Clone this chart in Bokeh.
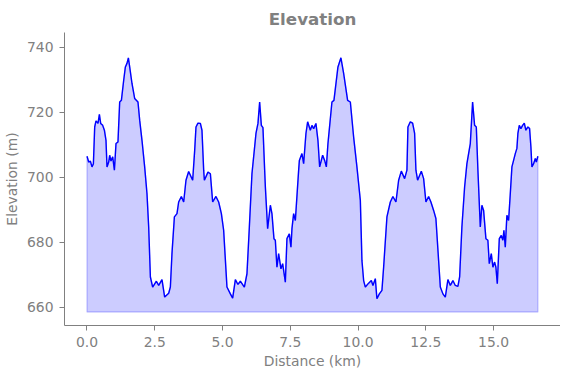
from bokeh.plotting import figure
from bokeh.models import FixedTicker, NumeralTickFormatter, Range1d
from bokeh.embed import file_html
from bokeh.resources import INLINE

# Distance (km) and elevation (m)
distance_km = [
    0.000, 0.063, 0.125, 0.184, 0.236, 0.284, 0.332, 0.406, 0.457, 0.505,
    0.579, 0.642, 0.701, 0.738, 0.800, 0.837, 0.885, 0.948, 1.011, 1.070,
    1.143, 1.206, 1.269, 1.354, 1.416, 1.475, 1.527, 1.575, 1.660, 1.759,
    1.881, 1.944, 2.029, 2.128, 2.213, 2.276, 2.339, 2.423, 2.560, 2.645,
    2.767, 2.866, 3.014, 3.076, 3.135, 3.224, 3.320, 3.382, 3.482, 3.567,
    3.652, 3.751, 3.899, 3.973, 4.021, 4.094, 4.183, 4.242, 4.305, 4.331,
    4.463, 4.552, 4.637, 4.758, 4.858, 4.958, 5.042, 5.164, 5.290, 5.374,
    5.474, 5.570, 5.658, 5.806, 5.902, 5.990, 6.086, 6.234, 6.308, 6.370,
    6.433, 6.492, 6.555, 6.581, 6.665, 6.765, 6.824, 6.898, 6.949, 7.008,
    7.071, 7.156, 7.219, 7.318, 7.377, 7.466, 7.525, 7.562, 7.624, 7.687,
    7.809, 7.835, 7.931, 7.993, 8.078, 8.141, 8.240, 8.299, 8.362, 8.447,
    8.521, 8.584, 8.694, 8.768, 8.831, 8.890, 9.037, 9.111, 9.259, 9.369,
    9.469, 9.616, 9.716, 9.838, 9.959, 10.085, 10.144, 10.207, 10.269, 10.391,
    10.491, 10.550, 10.638, 10.697, 10.786, 10.882, 10.944, 11.066, 11.191, 11.287,
    11.398, 11.498, 11.597, 11.719, 11.804, 11.841, 11.929, 12.014, 12.088, 12.136,
    12.198, 12.335, 12.420, 12.505, 12.604, 12.689, 12.789, 12.873, 12.973, 13.036,
    13.132, 13.220, 13.316, 13.405, 13.501, 13.589, 13.685, 13.748, 13.832, 13.932,
    14.017, 14.142, 14.227, 14.301, 14.364, 14.423, 14.511, 14.570, 14.633, 14.718,
    14.791, 14.843, 14.917, 14.976, 15.039, 15.087, 15.138, 15.212, 15.286, 15.345,
    15.382, 15.433, 15.492, 15.555, 15.618, 15.677, 15.739, 15.802, 15.861, 15.898,
    15.950, 16.009, 16.072, 16.134, 16.193, 16.267, 16.330, 16.378, 16.415, 16.477,
    16.540, 16.577, 16.636,
]
elevation_m = [
    706.5, 704.7, 705.0, 703.2, 704.2, 715.5, 717.4, 716.6, 719.4, 716.6,
    716.0, 714.5, 711.4, 703.2, 704.7, 706.8, 705.0, 706.3, 702.2, 710.4,
    710.9, 723.2, 723.7, 729.9, 734.0, 735.1, 736.8, 734.0, 728.9, 724.3,
    723.2, 717.6, 711.4, 703.2, 695.0, 684.7, 669.3, 666.2, 668.0, 666.7,
    668.5, 663.1, 664.3, 666.2, 676.5, 687.8, 688.8, 692.4, 694.1, 692.4,
    699.1, 701.8, 699.1, 708.3, 715.5, 716.7, 716.6, 714.5, 702.2, 699.1,
    701.6, 701.1, 692.4, 694.1, 692.4, 688.8, 683.7, 666.2, 664.1, 662.8,
    668.5, 667.0, 668.0, 666.2, 670.3, 684.7, 701.1, 713.5, 716.6, 723.2,
    716.0, 715.3, 702.2, 697.0, 684.2, 691.4, 688.8, 681.1, 680.6, 672.3,
    676.5, 671.8, 673.4, 667.7, 681.1, 682.6, 678.5, 684.2, 688.8, 686.7,
    702.2, 705.2, 707.3, 704.2, 713.5, 717.1, 714.5, 716.0, 715.0, 716.6,
    711.4, 703.2, 706.8, 705.2, 703.2, 710.4, 723.2, 723.7, 734.0, 736.8,
    732.0, 723.7, 723.2, 712.4, 703.2, 692.9, 674.4, 668.2, 666.2, 667.4,
    668.2, 666.7, 668.8, 662.6, 664.1, 665.2, 672.3, 687.8, 692.4, 694.1,
    692.4, 699.1, 701.9, 699.6, 702.2, 715.5, 717.1, 716.7, 713.5, 702.2,
    699.1, 701.9, 699.6, 692.4, 694.1, 692.4, 689.8, 687.3, 674.4, 666.2,
    664.1, 663.1, 668.5, 666.7, 668.2, 666.7, 666.4, 669.3, 684.7, 697.0,
    704.2, 710.4, 723.2, 716.0, 715.5, 702.2, 684.7, 691.4, 689.8, 681.1,
    680.6, 673.4, 676.5, 672.3, 673.9, 672.3, 667.2, 681.1, 682.1, 680.6,
    683.7, 678.5, 688.3, 686.7, 695.0, 703.2, 705.2, 707.3, 708.9, 713.5,
    716.0, 715.0, 716.0, 716.7, 714.5, 715.5, 715.0, 709.4, 703.2, 704.2,
    705.8, 704.7, 706.5,
]
fill_base_m = 658.5

x_ticks = [0, 2.5, 5, 7.5, 10, 12.5, 15]
y_ticks = [660, 680, 700, 720, 740]

GRAY = "#808080"
FONT = "DejaVu Sans"

p = figure(
    frame_width=496, frame_height=293,
    output_backend="svg", toolbar_location=None,
    x_range=Range1d(-0.83, 17.47), y_range=Range1d(654.36, 744.6),
    title="Elevation",
    min_border_left=60, min_border_right=0, min_border_top=32, min_border_bottom=37,
)

# filled area under the profile
px = distance_km + distance_km[::-1]
py = elevation_m + [fill_base_m] * len(distance_km)
p.patch(px, py, fill_color="blue", fill_alpha=0.2, line_color="blue", line_alpha=0.2, line_width=1.4)
p.line(distance_km, elevation_m, line_color="blue", line_width=1.4)

p.title.text_font = FONT
p.title.text_font_style = "bold"
p.title.text_font_size = "16.7px"
p.title.text_color = GRAY
p.title.align = "center"
p.title.standoff = 7

p.outline_line_color = None
p.xgrid.grid_line_color = None
p.ygrid.grid_line_color = None
p.background_fill_color = "white"
p.border_fill_color = "white"

for ax in (p.xaxis[0], p.yaxis[0]):
    ax.axis_line_color = GRAY
    ax.major_tick_line_color = GRAY
    ax.minor_tick_line_color = None
    ax.major_tick_out = 5
    ax.major_tick_in = 0
    ax.major_label_text_color = GRAY
    ax.major_label_text_font = FONT
    ax.major_label_text_font_size = "13.9px"
    ax.axis_label_text_color = GRAY
    ax.axis_label_text_font = FONT
    ax.axis_label_text_font_size = "13.9px"
    ax.axis_label_text_font_style = "normal"

p.xaxis.ticker = FixedTicker(ticks=x_ticks)
p.xaxis.formatter = NumeralTickFormatter(format="0.0")
p.yaxis.ticker = FixedTicker(ticks=y_ticks)
p.xaxis.axis_label = "Distance (km)"
p.yaxis.axis_label = "Elevation (m)"
p.xaxis.major_label_standoff = 6
p.yaxis.major_label_standoff = 6
p.xaxis.axis_label_standoff = 3
p.yaxis.axis_label_standoff = 4

open("out.html", "w").write(file_html(p, INLINE))
